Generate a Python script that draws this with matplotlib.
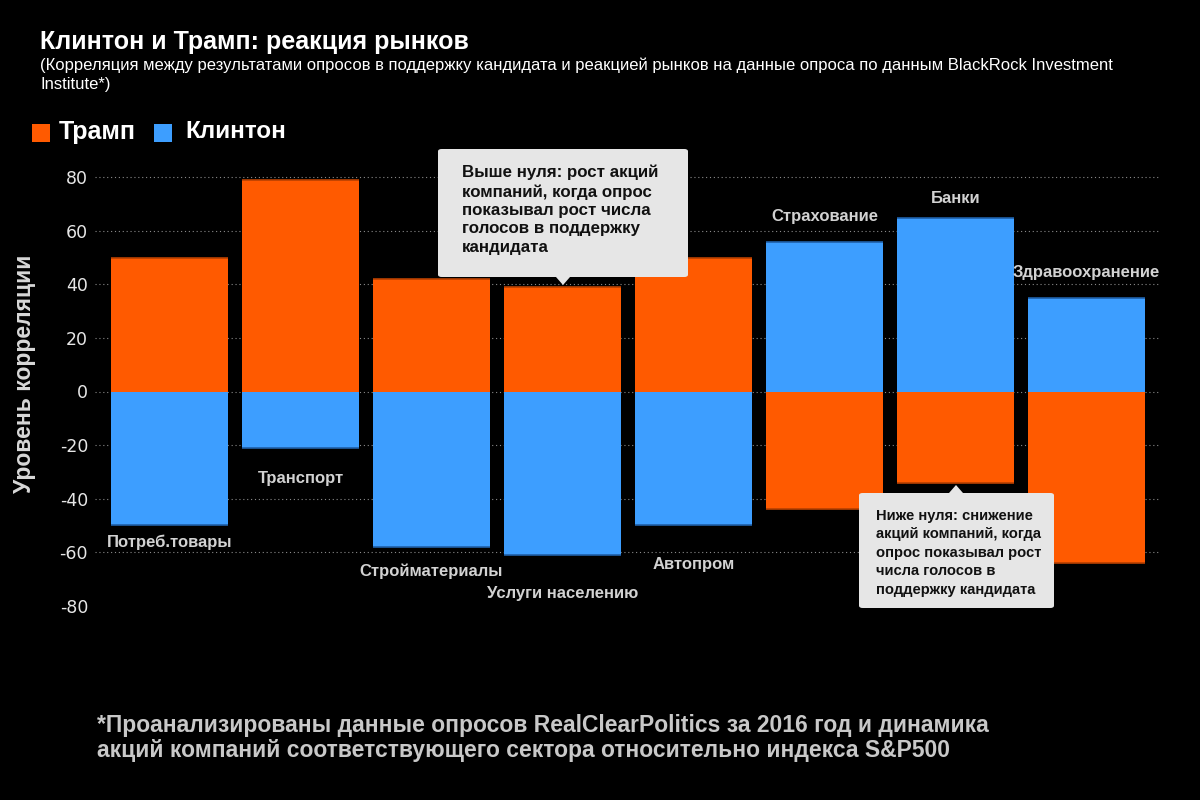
import matplotlib.pyplot as plt
from matplotlib.patches import FancyBboxPatch, Polygon, Rectangle
from matplotlib.ticker import FuncFormatter

# Data
sectors = ["Потреб.товары", "Транспорт", "Стройматериалы", "Услуги населению",
           "Автопром", "Страхование", "Банки", "Здравоохранение"]
trump = [50, 79, 42, 39, 50, -44, -34, -64]
clinton = [-50, -21, -58, -61, -50, 56, 65, 35]
yticks = [80, 60, 40, 20, 0, -20, -40, -60, -80]

ORANGE = "#FF5A00"
BLUE = "#3D9EFF"
BG = "#000000"

plt.rcParams["font.family"] = ["Liberation Sans", "DejaVu Sans"]

W, H = 1200, 800
fig = plt.figure(figsize=(12, 8), dpi=100, facecolor=BG)


def fx(x):
    return x / W


def fy(y):
    return 1 - y / H


# axes: x 95..1160 px, y 164..619 px
ax = fig.add_axes([fx(95), fy(619), fx(1160) - fx(95), (619 - 164) / H])
ax.set_facecolor(BG)
x = list(range(len(sectors)))
bw = 0.893
ax.bar(x, trump, width=bw, color=ORANGE, zorder=2)
ax.bar(x, clinton, width=bw, color=BLUE, zorder=2)
# darker edge at the end of every bar
ax.hlines(trump, [i - bw / 2 for i in x], [i + bw / 2 for i in x], color="#B84000", lw=1.2, zorder=3)
ax.hlines(clinton, [i - bw / 2 for i in x], [i + bw / 2 for i in x], color="#1F5FA8", lw=1.2, zorder=3)
ax.set_xlim(-0.569, 7.561)
ax.set_ylim(-85, 85)

for t in yticks[:-1]:
    ax.axhline(t, color="#8a8a8a", lw=0.8, ls=(0, (1, 2.5)), zorder=1)

ax.set_yticks(yticks)
ax.yaxis.set_major_formatter(FuncFormatter(lambda v, p: "%d" % v))
ax.tick_params(axis="y", length=0, pad=5, labelsize=12.5, labelcolor="#e6e6e6")
for lab in ax.get_yticklabels():
    lab.set_family("DejaVu Sans")
ax.set_xticks([])
for s in ax.spines.values():
    s.set_visible(False)

# sector labels (offset in points from the bar end)
label_offsets = [-12, -22, -18, -28, -28, 18, 14, 18]
for i, name in enumerate(sectors):
    end = min(trump[i], clinton[i]) if label_offsets[i] < 0 else max(trump[i], clinton[i])
    ax.annotate(name, (i, end), xytext=(0, label_offsets[i]), textcoords="offset points",
                ha="center", va="center", fontsize=12, fontweight="bold", color="#d2d2d2")

# y label
fig.text(fx(25), fy(374), "Уровень корреляции", rotation=90, ha="center", va="center",
         fontsize=16.5, color="#d8d8d8", fontweight="bold")

# title & subtitle
fig.text(fx(40), fy(42), "Клинтон и Трамп: реакция рынков", fontsize=18,
         fontweight="bold", color="white", va="center")
fig.text(fx(40), fy(75), "(Корреляция между результатами опросов в поддержку кандидата и реакцией рынков "
         "на данные опроса по данным BlackRock Investment\nInstitute*)",
         fontsize=12, color="white", va="center", linespacing=1.3)

# legend
fig.patches.append(Rectangle((fx(32), fy(142)), fx(18), 18 / H, transform=fig.transFigure,
                             facecolor=ORANGE, edgecolor="none"))
fig.text(fx(59), fy(132), "Трамп", fontsize=18, fontweight="bold", color="white", va="center")
fig.patches.append(Rectangle((fx(154), fy(142)), fx(18), 18 / H, transform=fig.transFigure,
                             facecolor=BLUE, edgecolor="none"))
fig.text(fx(185), fy(132), "Клинтон", fontsize=17.5, fontweight="bold", color="white", va="center")


def callout(x0, y0, x1, y1, tip, text, tx, ty, size, ls):
    box = FancyBboxPatch((fx(x0), fy(y1)), fx(x1 - x0), (y1 - y0) / H,
                         boxstyle="round,pad=0,rounding_size=0.003",
                         transform=fig.transFigure, facecolor="#e6e6e6", edgecolor="none", zorder=5)
    fig.patches.append(box)
    tri = Polygon([(fx(p[0]), fy(p[1])) for p in tip], closed=True, transform=fig.transFigure,
                  facecolor="#e6e6e6", edgecolor="none", zorder=5)
    fig.patches.append(tri)
    fig.text(fx(tx), fy(ty), text, fontsize=size, fontweight="bold", color="#111111",
             va="top", ha="left", linespacing=ls, zorder=6)


callout(438, 149, 688, 277, [(556, 277), (570, 277), (563, 285)],
        "Выше нуля: рост акций\nкомпаний, когда опрос\nпоказывал рост числа\nголосов в поддержку\nкандидата",
        462, 165, 12.2, 1.28)
callout(859, 493, 1054, 608, [(949, 493), (963, 493), (956, 485)],
        "Ниже нуля: снижение\nакций компаний, когда\nопрос показывал рост\nчисла голосов в\nподдержку кандидата",
        876, 509, 10.6, 1.4)

# footnote
fig.text(fx(97), fy(738), "*Проанализированы данные опросов RealClearPolitics за 2016 год и динамика\n"
         "акций компаний соответствующего сектора относительно индекса S&P500",
         fontsize=16.5, fontweight="bold", color="#c8c8c8", va="center", linespacing=1.12)

fig.savefig("out.png", dpi=100, facecolor=BG)
